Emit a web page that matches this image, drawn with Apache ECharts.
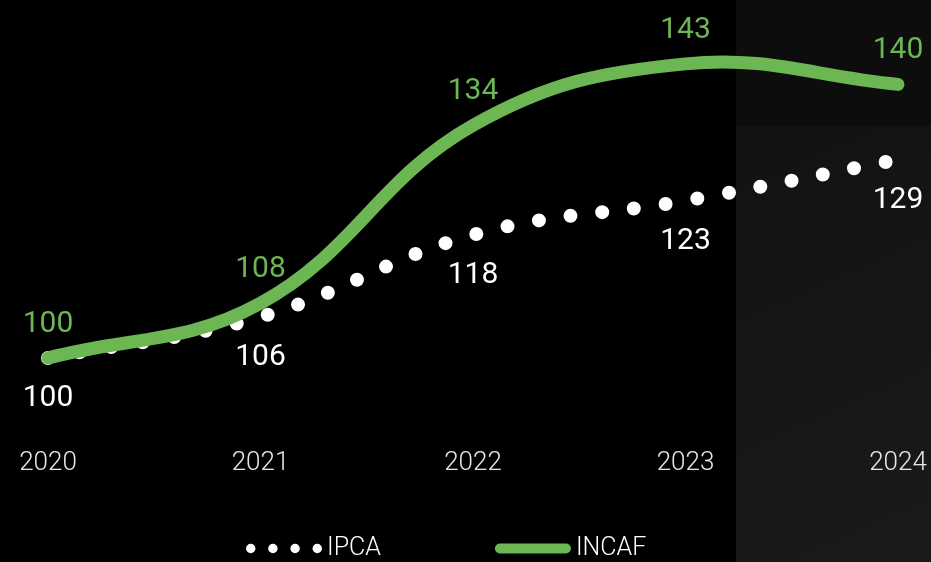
<!DOCTYPE html>
<html>
<head>
<meta charset="utf-8">
<script src="https://cdn.jsdelivr.net/npm/echarts@6/dist/echarts.min.js"></script>
<style>
  html, body { margin: 0; padding: 0; background: #000; }
  #chart { width: 931px; height: 562px; }
</style>
</head>
<body>
<div id="chart"></div>
<script>
// data
var years = ['2020', '2021', '2022', '2023', '2024'];
var ipca = [100, 106, 118, 123, 129];
var incaf = [100, 108, 134, 143, 140];

var green = '#6cb654';
var white = '#ffffff';
var font = 'Roboto, "Noto Sans", sans-serif';
var tension = 0.4;

var dotsIcon = 'path://M0.4,5a4.6,4.6 0 1,0 9.2,0a4.6,4.6 0 1,0 -9.2,0Z' +
  'M21.9,5a4.6,4.6 0 1,0 9.2,0a4.6,4.6 0 1,0 -9.2,0Z' +
  'M43.4,5a4.6,4.6 0 1,0 9.2,0a4.6,4.6 0 1,0 -9.2,0Z' +
  'M64.9,5a4.6,4.6 0 1,0 9.2,0a4.6,4.6 0 1,0 -9.2,0Z';
var barIcon = 'path://M5,0H71A5,5 0 0 1 71,10H5A5,5 0 0 1 5,0Z';

// cardinal spline through the mapped points (no clamping, so it may overshoot like the source)
function splinePath(pts) {
  var d = 'M' + pts[0][0] + ',' + pts[0][1];
  var cps = pts.map(function(p, i) {
    var prev = pts[i - 1] || p, next = pts[i + 1] || p;
    var d01 = Math.hypot(p[0] - prev[0], p[1] - prev[1]);
    var d12 = Math.hypot(next[0] - p[0], next[1] - p[1]);
    var s = d01 + d12 || 1;
    var fa = tension * d01 / s, fb = tension * d12 / s;
    var vx = next[0] - prev[0], vy = next[1] - prev[1];
    return {
      before: [p[0] - fa * vx, p[1] - fa * vy],
      after: [p[0] + fb * vx, p[1] + fb * vy]
    };
  });
  for (var i = 1; i < pts.length; i++) {
    var a = cps[i - 1].after, b = cps[i].before;
    d += 'C' + a[0] + ',' + a[1] + ' ' + b[0] + ',' + b[1] + ' ' + pts[i][0] + ',' + pts[i][1];
  }
  return d;
}

function curveSeries(values, style, z) {
  return {
    type: 'custom',
    data: values.map(function(v, i) { return [i, v]; }),
    z: z,
    silent: true,
    renderItem: function(params, api) {
      if (params.dataIndex !== 0) return;
      var pts = values.map(function(v, i) { return api.coord([i, v]); });
      return {
        type: 'path',
        shape: { pathData: splinePath(pts) },
        style: Object.assign({ fill: 'none', lineCap: 'round', lineJoin: 'round' }, style)
      };
    }
  };
}

function labelSeries(name, values, position, color, distance) {
  return {
    name: name,
    type: 'line',
    data: values,
    symbol: 'circle',
    symbolSize: 1,
    itemStyle: { color: 'rgba(0,0,0,0)' },
    lineStyle: { width: 0, opacity: 0 },
    label: {
      show: true, position: position, distance: distance,
      color: color, fontSize: 30, fontFamily: font
    },
    z: 5
  };
}

var chart = echarts.init(document.getElementById('chart'));
chart.setOption({
  animation: false,
  backgroundColor: '#000',
  graphic: [
    { type: 'rect', z: -10, silent: true, shape: { x: 736, y: 0, width: 195, height: 126 },
      style: { fill: '#0d0d0d' } },
    { type: 'rect', z: -10, silent: true, shape: { x: 736, y: 126, width: 195, height: 436 },
      style: { fill: new echarts.graphic.LinearGradient(0, 0, 1, 1, [
        { offset: 0, color: '#121212' },
        { offset: 1, color: '#1a1a1a' }
      ]) } }
  ],
  grid: { left: 48, right: 33, top: 16, bottom: 122 },
  legend: {
    left: 246,
    top: 536,
    padding: 0,
    itemWidth: 76,
    itemHeight: 10,
    itemGap: 114,
    textStyle: { color: white, fontSize: 25, fontWeight: 300, fontFamily: font },
    data: [
      { name: 'IPCA', icon: dotsIcon, itemStyle: { color: white, borderWidth: 0 } },
      { name: 'INCAF', icon: barIcon, itemStyle: { color: green, borderWidth: 0 } }
    ]
  },
  xAxis: {
    type: 'category',
    data: years,
    boundaryGap: false,
    axisLine: { show: false },
    axisTick: { show: false },
    axisLabel: { color: '#e6e6e6', fontSize: 26, fontWeight: 300, fontFamily: font, margin: 10 },
    splitLine: { show: false }
  },
  yAxis: {
    type: 'value',
    min: 88,
    max: 150,
    show: false
  },
  series: [
    curveSeries(ipca, { stroke: white, lineWidth: 14, lineDash: [0, 32] }, 2),
    curveSeries(incaf, { stroke: green, lineWidth: 13 }, 3),
    labelSeries('IPCA', ipca, 'bottom', white, 25),
    labelSeries('INCAF', incaf, 'top', green, 18)
  ]
});
</script>
</body>
</html>
